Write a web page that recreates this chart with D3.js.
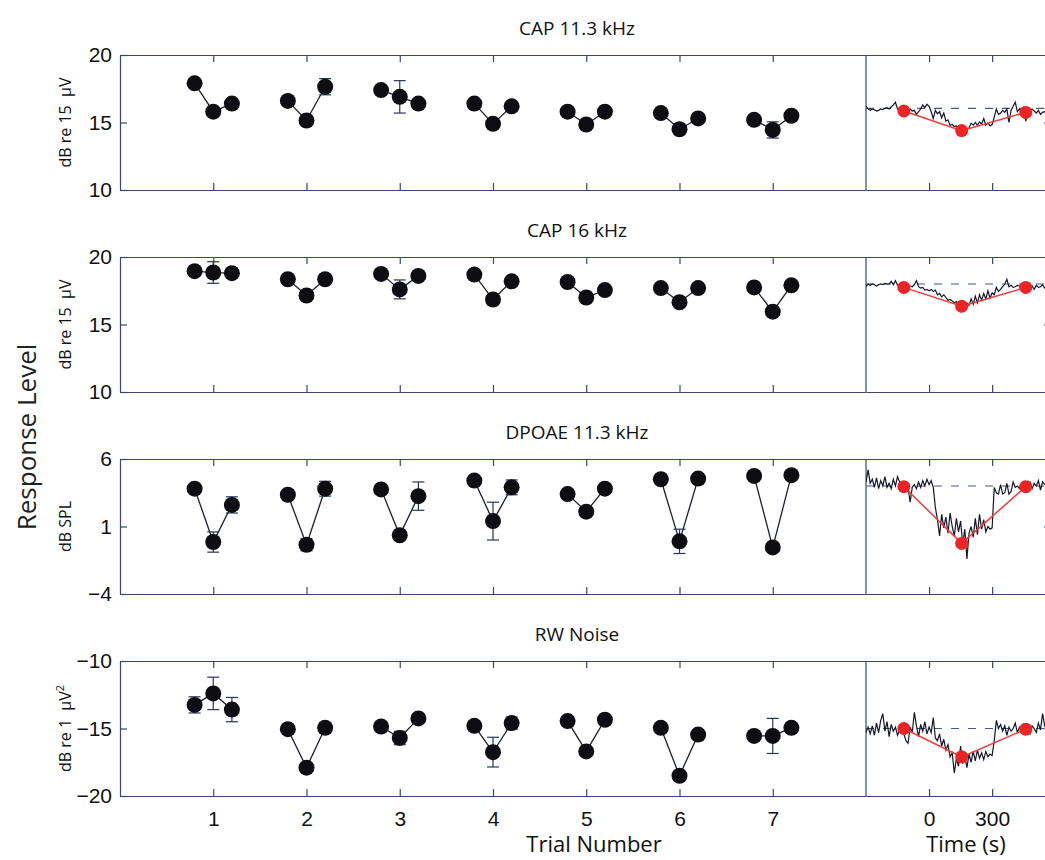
<!DOCTYPE html>
<html>
<head>
<meta charset="utf-8">
<script src="https://cdn.jsdelivr.net/npm/d3@7/dist/d3.min.js"></script>
<style>
  body { margin: 0; background: #fff; }
  svg { display: block; font-family: "Open Sans", "Lato", sans-serif; }
  text { white-space: pre; }
</style>
</head>
<body>
<svg id="chart" width="1045" height="860"></svg>
<script>
// ---- data ----
const trials = [1, 2, 3, 4, 5, 6, 7];
const titles = ["CAP 11.3 kHz", "CAP 16 kHz", "DPOAE 11.3 kHz", "RW Noise"];
const yDomains = [[10, 20], [10, 20], [-4, 6], [-20, -10]];
const yTickValues = [[10, 15, 20], [10, 15, 20], [-4, 1, 6], [-20, -15, -10]];
const timeTicks = [0, 300];

// per trial: [pre, during, post]
const cap11Trials = [[17.9, 15.8, 16.4], [16.6, 15.15, 17.65], [17.4, 16.9, 16.4], [16.4, 14.9, 16.2], [15.8, 14.85, 15.8], [15.7, 14.5, 15.3], [15.2, 14.45, 15.5]];
const cap11Err = [[0.15, 0.25, 0.15], [0.15, 0.3, 0.6], [0.2, 1.2, 0.3], [0.15, 0.15, 0.15], [0.15, 0.15, 0.15], [0.15, 0.15, 0.15], [0.15, 0.6, 0.15]];
const cap16Trials = [[18.95, 18.85, 18.8], [18.35, 17.15, 18.35], [18.75, 17.6, 18.6], [18.7, 16.85, 18.2], [18.15, 17.0, 17.55], [17.7, 16.65, 17.7], [17.75, 15.95, 17.9]];
const cap16Err = [[0.15, 0.8, 0.15], [0.15, 0.15, 0.15], [0.15, 0.7, 0.15], [0.15, 0.15, 0.15], [0.15, 0.15, 0.15], [0.15, 0.15, 0.15], [0.15, 0.15, 0.15]];
const dpoaeTrials = [[3.8, -0.15, 2.6], [3.35, -0.35, 3.8], [3.75, 0.35, 3.25], [4.4, 1.4, 3.9], [3.4, 2.1, 3.8], [4.5, -0.1, 4.55], [4.75, -0.55, 4.8]];
const dpoaeErr = [[0.15, 0.75, 0.6], [0.15, 0.45, 0.55], [0.15, 0.2, 1.05], [0.15, 1.4, 0.55], [0.15, 0.15, 0.15], [0.15, 0.9, 0.15], [0.15, 0.15, 0.15]];
const rwTrials = [[-13.25, -12.4, -13.6], [-15.05, -17.9, -14.95], [-14.85, -15.7, -14.25], [-14.8, -16.75, -14.6], [-14.45, -16.7, -14.35], [-14.95, -18.5, -15.45], [-15.55, -15.55, -14.95]];
const rwErr = [[0.6, 1.2, 0.9], [0.15, 0.15, 0.4], [0.15, 0.5, 0.15], [0.15, 1.1, 0.45], [0.15, 0.15, 0.15], [0.15, 0.15, 0.15], [0.15, 1.3, 0.15]];

// example time course (right column)
const summaryTimes = [-120, 155, 460];
const cap11Summary = [15.85, 14.4, 15.75];
const cap16Summary = [17.75, 16.35, 17.75];
const dpoaeSummary = [3.95, -0.25, 3.95];
const rwSummary = [-15.0, -17.1, -15.05];
const baselines = [16.05, 18.0, 4.0, -15.0];

const traceStart = -300, traceStep = 10;
const cap11Trace = [
  16.2, 16.0, 15.9, 16.0, 15.95, 15.85, 15.9, 16.0, 15.95, 16.05,
  16.1, 16.0, 16.15, 16.3, 16.5, 16.0, 15.95, 15.9, 15.85, 16.0,
  15.9, 16.0, 15.85, 15.9, 15.6, 15.8, 16.0, 16.3, 16.1, 16.35,
  16.2, 15.8, 15.3, 15.9, 15.65, 15.8, 15.35, 15.7, 15.1, 15.2,
  14.8, 14.85, 14.7, 14.75, 14.6, 14.65, 14.55, 14.6, 14.5, 14.6,
  14.95, 14.8, 15.0, 14.8, 15.05, 14.9, 15.3, 14.8, 14.95, 14.75,
  14.85, 15.4, 16.0, 15.6, 15.7, 15.9, 15.75, 16.0, 15.0, 15.9,
  16.2, 16.5, 15.8, 16.0, 15.75, 16.1, 15.1, 15.8, 15.9, 16.0,
  15.85, 15.7, 15.9, 15.6, 15.75, 15.8, 15.7
];
const cap16Trace = [
  17.8, 18.0, 17.9, 18.0, 17.95, 17.85, 17.95, 18.0, 17.95, 18.05,
  18.0, 18.0, 18.2, 17.95, 18.25, 17.9, 17.85, 17.8, 17.95, 17.75,
  17.9, 17.85, 17.8, 17.95, 18.25, 17.8, 17.7, 17.75, 17.55, 17.6,
  17.5, 17.6, 17.45, 17.55, 17.2, 17.3, 17.05, 17.2, 17.0, 16.8,
  16.85, 16.75, 16.6, 16.7, 16.5, 16.0, 16.45, 16.3, 16.6, 16.4,
  16.9, 16.5, 17.1, 16.6, 17.2, 16.8, 17.3, 16.9, 17.5, 16.95,
  17.35, 17.2, 17.75, 17.45, 17.6, 17.8, 18.0, 18.35, 17.8, 17.9,
  17.75, 17.8, 17.9, 17.85, 17.7, 17.85, 17.8, 17.95, 17.7, 17.85,
  17.6, 17.9, 17.75, 17.8, 17.95, 17.7, 17.85
];
const dpoaeTrace = [
  4.3, 5.2, 4.2, 4.5, 3.9, 4.6, 3.8, 4.4, 4.0, 4.7,
  3.9, 4.2, 3.8, 4.5, 4.0, 4.7, 4.3, 3.9, 4.1, 3.8,
  3.9, 2.8, 3.9, 4.1, 3.8, 4.3, 3.9, 4.4, 4.0, 4.5,
  4.1, 4.4, 3.9, 2.4, 1.5, 0.3, 1.9, 0.9, 1.7, 0.5,
  2.0, 1.0, 0.3, 1.6, 0.6, 1.4, -0.3, 0.8, -1.4, 0.5,
  1.0, 0.2, 1.6, 0.4, 1.9, 0.8, 1.5, 0.6, 1.0, 0.8,
  0.9, 3.9, 3.5, 3.4, 4.1, 3.4, 3.5, 4.2, 3.4, 3.6,
  4.3, 3.9, 4.0, 3.8, 4.1, 4.2, 3.9, 4.0, 4.3, 3.8,
  4.2, 4.0, 4.4, 3.7, 4.3, 4.1, 4.0
];
const rwTrace = [
  -15.3, -14.9, -15.4, -14.8, -15.5, -14.6, -15.3, -14.4, -13.9, -15.2,
  -14.5, -15.6, -14.7, -15.2, -14.9, -15.5, -15.1, -14.6, -15.4, -15.9,
  -16.1, -14.9, -15.3, -13.8, -14.8, -15.6, -14.7, -15.2, -14.5, -15.4,
  -14.9, -15.3, -14.2, -15.7, -15.9, -15.4, -16.3, -15.8, -16.6, -16.2,
  -17.1, -16.8, -18.3, -17.2, -17.8, -16.3, -17.6, -17.0, -17.9, -16.9,
  -17.5, -16.7, -17.4, -16.6, -17.2, -16.8, -17.3, -16.7, -17.1, -16.9,
  -17.0, -15.9, -14.4, -15.0, -14.7, -15.2, -14.8, -15.5, -14.9, -15.2,
  -15.0, -14.6, -15.3, -14.9, -15.1, -14.7, -15.2, -14.9, -15.4, -14.8,
  -15.0, -15.3, -14.6, -15.1, -13.9, -14.8, -15.2
];

// ---- layout ----
const W = 1045, H = 860;
const left = 120, split = 866, right = 1051, panelH = 135;
const panelTops = [55, 257, 459, 661];
const phaseOffsets = [-0.2, 0, 0.2];
const frameColor = "#3a4570";
const fmt = d => d < 0 ? "\u2212" + Math.abs(d) : String(d);

const panels = [
  { trials: cap11Trials, err: cap11Err, summary: cap11Summary, trace: cap11Trace, ylabel: "dB re 15  \u00b5V" },
  { trials: cap16Trials, err: cap16Err, summary: cap16Summary, trace: cap16Trace, ylabel: "dB re 15  \u00b5V" },
  { trials: dpoaeTrials, err: dpoaeErr, summary: dpoaeSummary, trace: dpoaeTrace, ylabel: "dB SPL" },
  { trials: rwTrials, err: rwErr, summary: rwSummary, trace: rwTrace, ylabel: "dB re 1  \u00b5V", sup: "2" }
];

const svg = d3.select("#chart");
svg.append("rect").attr("width", W).attr("height", H).attr("fill", "#fff");

const x = d3.scaleLinear().domain([0, 8]).range([left, split]);
const xt = d3.scaleLinear().domain([-300, 580]).range([split, right]);

svg.append("defs").append("clipPath").attr("id", "rightClip")
  .append("rect").attr("x", split).attr("y", 0).attr("width", right - split).attr("height", H);

function styleAxis(g) {
  g.selectAll("path.domain").attr("stroke", frameColor).attr("stroke-width", 1.2);
  g.selectAll(".tick line").attr("stroke", frameColor).attr("stroke-width", 1.2);
  g.selectAll(".tick text").attr("fill", "#111").attr("font-size", 21);
}

panels.forEach((p, i) => {
  const top = panelTops[i];
  const bottom = top + panelH;
  const last = i === panels.length - 1;
  const y = d3.scaleLinear().domain(yDomains[i]).range([bottom, top]);
  const g = svg.append("g");

  // frame + ticks, left column
  g.append("g").attr("transform", `translate(0,${bottom})`)
    .call(d3.axisBottom(x).tickValues(trials).tickSize(-7).tickSizeOuter(0).tickPadding(15)
      .tickFormat(last ? d => d : () => ""))
    .call(styleAxis);
  g.append("g").attr("transform", `translate(0,${top})`)
    .call(d3.axisTop(x).tickValues(trials).tickSize(-7).tickSizeOuter(0).tickFormat(() => ""))
    .call(styleAxis);
  g.append("g").attr("transform", `translate(${left},0)`)
    .call(d3.axisLeft(y).tickValues(yTickValues[i]).tickSize(-7).tickSizeOuter(0).tickPadding(8).tickFormat(fmt))
    .call(styleAxis);

  // right column frame
  g.append("g").attr("transform", `translate(0,${bottom})`)
    .call(d3.axisBottom(xt).tickValues(timeTicks).tickSize(-7).tickSizeOuter(0).tickPadding(15)
      .tickFormat(last ? d => d : () => ""))
    .call(styleAxis);
  g.append("g").attr("transform", `translate(0,${top})`)
    .call(d3.axisTop(xt).tickValues(timeTicks).tickSize(-7).tickSizeOuter(0).tickFormat(() => ""))
    .call(styleAxis);
  g.append("g").attr("transform", `translate(${right},0)`)
    .call(d3.axisRight(y).tickValues([yTickValues[i][1]]).tickSize(-7).tickSizeOuter(0).tickFormat(() => ""))
    .call(styleAxis);
  g.append("line").attr("x1", split).attr("x2", split).attr("y1", top).attr("y2", bottom)
    .attr("stroke", frameColor).attr("stroke-width", 1.2);

  // title + y label
  g.append("text").attr("x", 577).attr("y", top - 20).attr("text-anchor", "middle")
    .attr("font-size", 19).attr("fill", "#111").text(titles[i]);
  const yl = g.append("text").attr("transform", `translate(71,${top + panelH / 2}) rotate(-90)`)
    .attr("text-anchor", "middle").attr("font-size", 16).attr("fill", "#111").text(p.ylabel);
  if (p.sup) yl.append("tspan").attr("dy", -7).attr("font-size", 11).text(p.sup);

  // trial groups
  p.trials.forEach((vals, t) => {
    const pts = vals.map((v, k) => ({ x: x(trials[t] + phaseOffsets[k]), v, e: p.err[t][k] }));
    g.append("path").attr("d", d3.line().x(d => d.x).y(d => y(d.v))(pts))
      .attr("fill", "none").attr("stroke", "#1b1f30").attr("stroke-width", 1.3);
    pts.forEach(d => {
      const eg = g.append("g").attr("stroke", "#2c3558").attr("stroke-width", 1.2);
      eg.append("line").attr("x1", d.x).attr("x2", d.x).attr("y1", y(d.v - d.e)).attr("y2", y(d.v + d.e));
      eg.append("line").attr("x1", d.x - 6).attr("x2", d.x + 6).attr("y1", y(d.v - d.e)).attr("y2", y(d.v - d.e));
      eg.append("line").attr("x1", d.x - 6).attr("x2", d.x + 6).attr("y1", y(d.v + d.e)).attr("y2", y(d.v + d.e));
    });
    g.selectAll(null).data(pts).join("circle")
      .attr("cx", d => d.x).attr("cy", d => y(d.v)).attr("r", 8).attr("fill", "#0d0d12");
  });

  // right column time course
  const rc = g.append("g").attr("clip-path", "url(#rightClip)");
  rc.append("line").attr("x1", split).attr("x2", right).attr("y1", y(baselines[i])).attr("y2", y(baselines[i]))
    .attr("stroke", "#4a5788").attr("stroke-width", 1.1).attr("stroke-dasharray", "8,9");
  rc.append("path")
    .attr("d", d3.line().x((v, k) => xt(traceStart + k * traceStep)).y(v => y(v))(p.trace))
    .attr("fill", "none").attr("stroke", "#14172a").attr("stroke-width", 1.2);
  const sum = p.summary.map((v, k) => ({ t: summaryTimes[k], v }));
  rc.append("path").attr("d", d3.line().x(d => xt(d.t)).y(d => y(d.v))(sum))
    .attr("fill", "none").attr("stroke", "#f23a36").attr("stroke-width", 1.5);
  rc.selectAll(null).data(sum).join("circle")
    .attr("cx", d => xt(d.t)).attr("cy", d => y(d.v)).attr("r", 6.5).attr("fill", "#ee2424");
});

// shared labels
svg.append("text").attr("transform", "translate(36,437) rotate(-90)").attr("text-anchor", "middle")
  .attr("font-size", 26).attr("fill", "#1c241f").text("Response Level");
svg.append("text").attr("x", 594).attr("y", 852).attr("text-anchor", "middle")
  .attr("font-size", 22).attr("fill", "#111").text("Trial Number");
svg.append("text").attr("x", 966).attr("y", 852).attr("text-anchor", "middle")
  .attr("font-size", 22).attr("fill", "#111").text("Time (s)");
</script>
</body>
</html>
